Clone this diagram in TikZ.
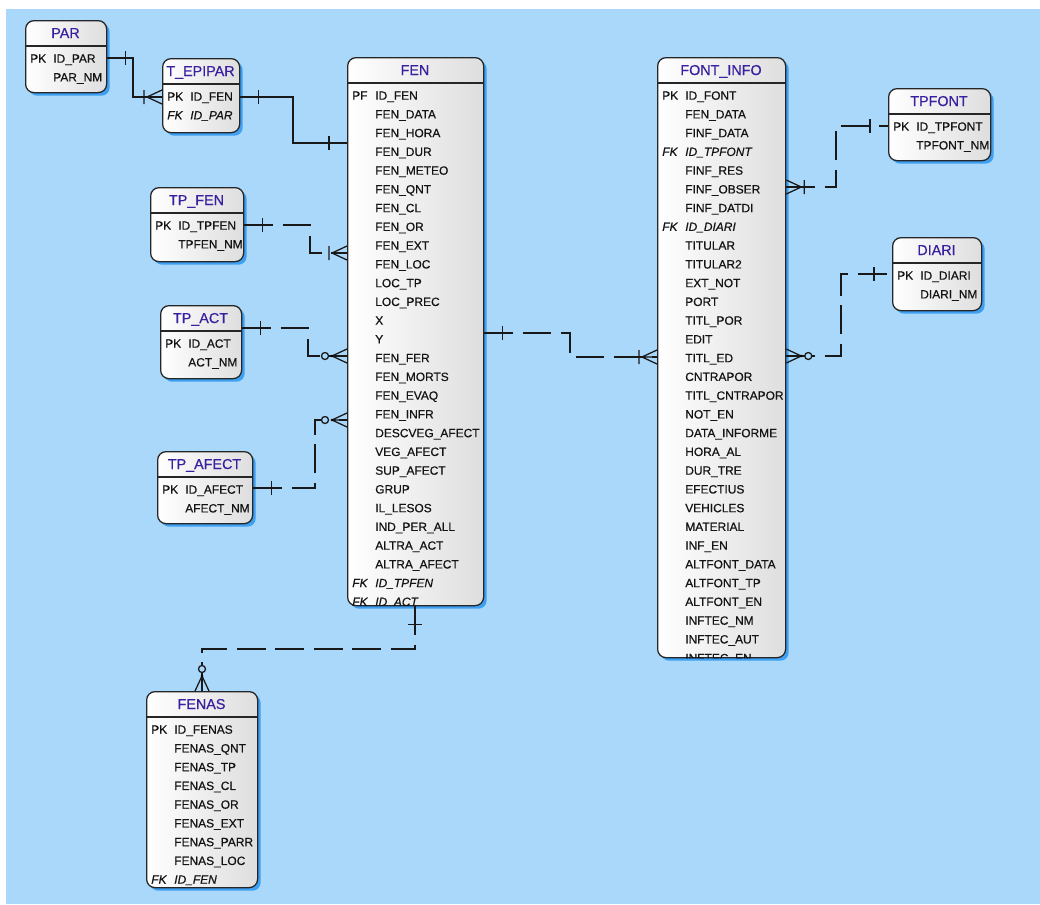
\documentclass[tikz,border=0pt]{standalone}
\usepackage{fontspec}
\setmainfont{Liberation Sans}
\newfontfamily\rowfont[FakeBold=0.6]{Liberation Sans}
\usepackage{tikz}
\usetikzlibrary{shadows}
\definecolor{canvasblue}{HTML}{AAD8FA}
\definecolor{shadowblue}{HTML}{3EA0F2}
\definecolor{entborder}{HTML}{262626}
\definecolor{enttitle}{HTML}{3A1FA0}
\definecolor{rowtext}{HTML}{141414}
\tikzset{
  ent/.style      = {draw=entborder,line width=0.9pt,rounded corners=6pt,
                     left color=white,right color=black!13,inner sep=0pt,
                     drop shadow={shadow xshift=2.2pt,shadow yshift=-2.2pt,
                                  fill=shadowblue,opacity=1}},
  entname/.style  = {text=enttitle,font=\rowfont\fontsize{10.2}{12}\selectfont,
                     anchor=base,inner sep=0pt},
  sepline/.style  = {draw=entborder,line width=0.9pt},
  pl/.style       = {anchor=base west,inner sep=0pt,text=rowtext,
                     font=\rowfont\fontsize{8.5}{10}\selectfont},
  fk/.style       = {pl,font=\rowfont\fontsize{8.5}{10}\selectfont\itshape},
  rel/.style      = {line width=0.9pt,draw=black!90},
  nonid/.style    = {rel,dash pattern=on 0.72cm off 0.24cm},
  onebar/.pic     = {\draw[rel] (-18,-7) -- (-18,7);},
  crowbar/.pic    = {\draw[rel] (-18,-7) -- (-18,7)
                       (-15,0) -- (0,-7) (-15,0) -- (0,7) (-15,0) -- (0,0);},
  crowring/.pic   = {\draw[rel] (-15,0) -- (0,-7) (-15,0) -- (0,7) (-15,0) -- (0,0);
                     \fill[black] (-15,0) circle (1pt);
                     \draw[rel,fill=canvasblue] (-22,0) circle (2.5pt);},
}
% name, x, y, width, height, title, rows (key/attribute/style)
\newcommand{\entity}[7]{%
  \node[ent,anchor=north west,minimum width=#4*0.025cm,minimum height=#5*0.025cm]
    (#1) at (#2,#3) {};
  \node[entname] (#1-t) at ({#2+#4/2},#3+18) {#6};
  \draw[sepline] (#2,#3+26) -- ++(#4,0);
  \begin{scope}
    \clip[rounded corners=6pt] (#1.north west) rectangle (#1.south east);
    \foreach \k/\n/\s [count=\i from 0] in {#7} {
      \node[\s] (#1-k\i) at ({#2+5},{#3+42.7+18.75*\i}) {\k};
      \node[\s] (#1-a\i) at ({#2+28},{#3+42.7+18.75*\i}) {\n};
    }
  \end{scope}
}

\begin{document}
\begin{tikzpicture}[x=0.025cm,y=-0.025cm]
  \useasboundingbox (0,0) rectangle (1040,904);
  \fill[canvasblue] (6,9) rectangle (1040,904);

  % entities
  \entity{par}{25}{20}{81}{72}{PAR}{PK/ID\_PAR/pl, {}/PAR\_NM/pl}
  \entity{tepipar}{162}{58}{77}{74}{T\_EPIPAR}{PK/ID\_FEN/pl, FK/ID\_PAR/fk}
  \entity{fen}{347}{57}{136}{548}{FEN}{PF/ID\_FEN/pl, {}/FEN\_DATA/pl,
    {}/FEN\_HORA/pl, {}/FEN\_DUR/pl, {}/FEN\_METEO/pl, {}/FEN\_QNT/pl,
    {}/FEN\_CL/pl, {}/FEN\_OR/pl, {}/FEN\_EXT/pl, {}/FEN\_LOC/pl,
    {}/LOC\_TP/pl, {}/LOC\_PREC/pl, {}/X/pl, {}/Y/pl, {}/FEN\_FER/pl,
    {}/FEN\_MORTS/pl, {}/FEN\_EVAQ/pl, {}/FEN\_INFR/pl, {}/DESCVEG\_AFECT/pl,
    {}/VEG\_AFECT/pl, {}/SUP\_AFECT/pl, {}/GRUP/pl, {}/IL\_LESOS/pl,
    {}/IND\_PER\_ALL/pl, {}/ALTRA\_ACT/pl, {}/ALTRA\_AFECT/pl,
    FK/ID\_TPFEN/fk, FK/ID\_ACT/fk}
  \entity{tpfen}{150}{187}{93}{74}{TP\_FEN}{PK/ID\_TPFEN/pl, {}/TPFEN\_NM/pl}
  \entity{tpact}{160}{305}{81}{73}{TP\_ACT}{PK/ID\_ACT/pl, {}/ACT\_NM/pl}
  \entity{tpafect}{157}{451}{95}{72}{TP\_AFECT}{PK/ID\_AFECT/pl, {}/AFECT\_NM/pl}
  \entity{fenas}{146}{691}{111}{196}{FENAS}{PK/ID\_FENAS/pl, {}/FENAS\_QNT/pl,
    {}/FENAS\_TP/pl, {}/FENAS\_CL/pl, {}/FENAS\_OR/pl, {}/FENAS\_EXT/pl,
    {}/FENAS\_PARR/pl, {}/FENAS\_LOC/pl, FK/ID\_FEN/fk}
  \entity{fontinfo}{657}{57}{128}{600}{FONT\_INFO}{PK/ID\_FONT/pl,
    {}/FEN\_DATA/pl, {}/FINF\_DATA/pl, FK/ID\_TPFONT/fk, {}/FINF\_RES/pl,
    {}/FINF\_OBSER/pl, {}/FINF\_DATDI/pl, FK/ID\_DIARI/fk, {}/TITULAR/pl,
    {}/TITULAR2/pl, {}/EXT\_NOT/pl, {}/PORT/pl, {}/TITL\_POR/pl, {}/EDIT/pl,
    {}/TITL\_ED/pl, {}/CNTRAPOR/pl, {}/TITL\_CNTRAPOR/pl, {}/NOT\_EN/pl,
    {}/DATA\_INFORME/pl, {}/HORA\_AL/pl, {}/DUR\_TRE/pl, {}/EFECTIUS/pl,
    {}/VEHICLES/pl, {}/MATERIAL/pl, {}/INF\_EN/pl, {}/ALTFONT\_DATA/pl,
    {}/ALTFONT\_TP/pl, {}/ALTFONT\_EN/pl, {}/INFTEC\_NM/pl, {}/INFTEC\_AUT/pl,
    {}/INFTEC\_EN/pl}
  \entity{tpfont}{888}{88}{102}{72}{TPFONT}{PK/ID\_TPFONT/pl, {}/TPFONT\_NM/pl}
  \entity{diari}{892}{237}{89}{73}{DIARI}{PK/ID\_DIARI/pl, {}/DIARI\_NM/pl}

  % identifying relationships
  \draw[rel] (par.east |- 0,58) -| (133,97) -- (tepipar.west |- 0,97);
  \pic[rotate=180] at (par.east |- 0,58) {onebar};
  \pic at (tepipar.west |- 0,97) {crowbar};
  \draw[rel] (tepipar.east |- 0,97) -| (293,143) -- (fen.west |- 0,143);
  \pic[rotate=180] at (tepipar.east |- 0,97) {onebar};
  \pic at (fen.west |- 0,143) {onebar};

  % non-identifying relationships
  \draw[nonid] (tpfen.east |- 0,225) -| (310,253) -- (fen.west |- 0,253);
  \pic[rotate=180] at (tpfen.east |- 0,225) {onebar};
  \pic at (fen.west |- 0,253) {crowbar};
  \draw[nonid] (tpact.east |- 0,328) -| (308,356) -- (fen.west |- 0,356);
  \pic[rotate=180] at (tpact.east |- 0,328) {onebar};
  \pic at (fen.west |- 0,356) {crowring};
  \draw[nonid] (tpafect.east |- 0,488) -| (315,420) -- (fen.west |- 0,420);
  \pic[rotate=180] at (tpafect.east |- 0,488) {onebar};
  \pic at (fen.west |- 0,420) {crowring};
  \draw[nonid] (415,0 |- fen.south) |- (202,649) -- (fenas.north -| 202,0);
  \pic[rotate=90] at (415,0 |- fen.south) {onebar};
  \pic[rotate=-90] at (fenas.north -| 202,0) {crowring};
  \draw[nonid] (fen.east |- 0,333) -| (570,357) -- (fontinfo.west |- 0,357);
  \pic[rotate=180] at (fen.east |- 0,333) {onebar};
  \pic at (fontinfo.west |- 0,357) {crowbar};
  \draw[nonid] (fontinfo.east |- 0,187) -| (836,126) -- (tpfont.west |- 0,126);
  \pic[rotate=180] at (fontinfo.east |- 0,187) {crowbar};
  \pic at (tpfont.west |- 0,126) {onebar};
  \draw[nonid] (fontinfo.east |- 0,356) -| (841,274) -- (diari.west |- 0,274);
  \pic[rotate=180] at (fontinfo.east |- 0,356) {crowring};
  \pic at (diari.west |- 0,274) {onebar};
\end{tikzpicture}
\end{document}
